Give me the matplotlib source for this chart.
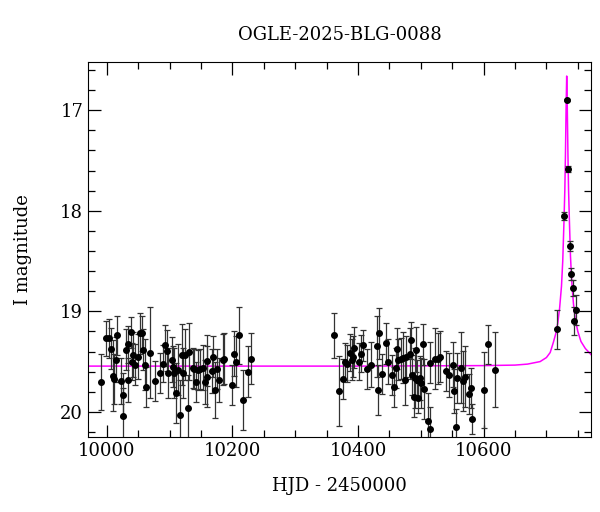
import numpy as np
import matplotlib.pyplot as plt
from matplotlib.ticker import MultipleLocator

# photometry (HJD - 2450000, I mag, error)
hjd = [
    9990, 9999, 10003.5, 10007, 10010, 10011, 10014, 10016, 10022, 10026, 10025, 10030,
    10033, 10034, 10038, 10040, 10042, 10045, 10049, 10052, 10055.5, 10057, 10061, 10063,
    10069, 10076, 10085, 10089, 10093, 10096, 10097.5, 10104, 10106, 10107.5, 10110, 10114,
    10117, 10120, 10121, 10124, 10129, 10131.5, 10137, 10139, 10142, 10145, 10149, 10153,
    10157, 10159, 10160, 10167, 10169, 10172, 10176, 10179, 10185, 10187, 10200, 10202,
    10206, 10211, 10217, 10224, 10229,
    10362.5, 10369, 10376, 10380, 10383, 10387, 10390, 10392, 10394, 10401, 10404, 10408,
    10415, 10420, 10429.5, 10431.5, 10433, 10438.5, 10445, 10447, 10454.5, 10458, 10460,
    10462.5, 10464, 10468, 10471, 10474.5, 10477, 10482, 10485, 10486, 10489, 10490, 10492,
    10494, 10495.5, 10498, 10500.5, 10503, 10505, 10511, 10514, 10515, 10522, 10527, 10530,
    10540, 10544.5, 10550.5, 10553.5, 10556, 10558, 10564.5, 10567, 10571, 10576.5, 10580,
    10581, 10600, 10606.5, 10618.5,
    10717.5, 10728.6, 10732, 10735, 10737.5, 10739, 10742, 10744, 10746.6,
]
mag = [
    19.70, 19.27, 19.27, 19.37, 19.64, 19.67, 19.48, 19.24, 19.69, 19.83, 20.04, 19.38,
    19.68, 19.33, 19.21, 19.50, 19.43, 19.53, 19.45, 19.22, 19.22, 19.38, 19.53, 19.75,
    19.41, 19.69, 19.61, 19.52, 19.34, 19.39, 19.61, 19.48, 19.55, 19.61, 19.81, 19.58,
    20.03, 19.43, 19.61, 19.43, 19.96, 19.40, 19.56, 19.57, 19.70, 19.58, 19.57, 19.56,
    19.70, 19.65, 19.49, 19.59, 19.45, 19.78, 19.57, 19.68, 19.48, 19.47, 19.73, 19.42,
    19.50, 19.24, 19.88, 19.60, 19.47,
    19.24, 19.79, 19.67, 19.50, 19.52, 19.41, 19.48, 19.45, 19.36, 19.50, 19.42, 19.34,
    19.57, 19.53, 19.35, 19.78, 19.22, 19.62, 19.32, 19.50, 19.63, 19.75, 19.56,
    19.37, 19.48, 19.47, 19.46, 19.68, 19.45, 19.42, 19.29, 19.63, 19.85, 19.66, 19.38,
    19.68, 19.86, 19.66, 19.71, 19.33, 19.77, 20.09, 19.51, 20.17, 19.47, 19.47, 19.45,
    19.59, 19.63, 19.53, 19.79, 20.15, 19.66, 19.56, 19.69, 19.65, 19.82, 19.76,
    20.07, 19.78, 19.33, 19.58,
    19.18, 18.05, 16.90, 17.58, 18.35, 18.63, 18.77, 19.10, 18.99,
]
err = [
    0.28, 0.17, 0.19, 0.20, 0.35, 0.25, 0.22, 0.19, 0.23, 0.22, 0.28, 0.20,
    0.22, 0.18, 0.15, 0.18, 0.22, 0.20, 0.22, 0.20, 0.17, 0.20, 0.25, 0.20,
    0.45, 0.20, 0.20, 0.18, 0.20, 0.20, 0.25, 0.22, 0.20, 0.25, 0.30, 0.25,
    0.35, 0.30, 0.25, 0.25, 0.33, 0.28, 0.20, 0.20, 0.20, 0.20, 0.20, 0.22,
    0.22, 0.30, 0.25, 0.22, 0.20, 0.28, 0.20, 0.22, 0.25, 0.25, 0.20, 0.22,
    0.25, 0.28, 0.30, 0.25, 0.25,
    0.22, 0.35, 0.20, 0.18, 0.18, 0.18, 0.20, 0.20, 0.20, 0.18, 0.18, 0.15,
    0.20, 0.22, 0.30, 0.25, 0.25, 0.20, 0.20, 0.22, 0.20, 0.20, 0.20,
    0.20, 0.20, 0.20, 0.25, 0.25, 0.20, 0.25, 0.18, 0.20, 0.20, 0.30, 0.22,
    0.20, 0.15, 0.22, 0.25, 0.20, 0.30, 0.28, 0.20, 0.22, 0.30, 0.25, 0.25,
    0.20, 0.22, 0.22, 0.22, 0.18, 0.25, 0.35, 0.30, 0.30, 0.20, 0.20,
    0.15, 0.38, 0.19, 0.37,
    0.19, 0.04, 0.01, 0.03, 0.05, 0.06, 0.08, 0.14, 0.15,
]

# model curve
model_hjd = [9970, 10400, 10600, 10650, 10670, 10690, 10700, 10706, 10711, 10715, 10718,
             10721, 10724, 10726, 10728, 10729.3, 10730.3, 10731.3, 10732.3, 10733.3,
             10734.3, 10735.3, 10736.6, 10738.3, 10740.3, 10743, 10746, 10750, 10755,
             10762, 10771]
model_mag = [19.545, 19.545, 19.54, 19.535, 19.525, 19.50, 19.46, 19.41, 19.31, 19.22, 19.12,
             18.97, 18.75, 18.50, 18.10, 17.80, 17.45, 17.00, 16.66, 17.00,
             17.45, 17.80, 18.10, 18.45, 18.70, 18.92, 19.08, 19.20, 19.30,
             19.37, 19.43]

plt.rcParams['font.family'] = ['DejaVu Serif']

fig = plt.figure(figsize=(6, 5.12), dpi=100)
ax = fig.add_axes([0.1467, 0.1465, 0.8383, 0.7325])

ax.plot(model_hjd, model_mag, color='#ff00ff', lw=1.1, zorder=1)
ax.errorbar(hjd, mag, yerr=err, fmt='o', color='black', ms=4.0, ecolor='#333333',
            elinewidth=0.9, capsize=2.4, capthick=0.9, zorder=2)

ax.set_xlim(9970, 10771)
ax.set_ylim(20.25, 16.52)

ax.xaxis.set_major_locator(MultipleLocator(200))
ax.xaxis.set_minor_locator(MultipleLocator(50))
ax.yaxis.set_major_locator(MultipleLocator(1))
ax.yaxis.set_minor_locator(MultipleLocator(0.2))
ax.tick_params(which='both', direction='in', top=True, right=True, labelsize=13)
ax.tick_params(which='major', length=9, width=0.9)
ax.tick_params(which='minor', length=5, width=0.9)

ax.set_title('OGLE-2025-BLG-0088', fontsize=13, pad=16)
ax.set_xlabel('HJD - 2450000', fontsize=13, labelpad=12)
ax.set_ylabel('I magnitude', fontsize=13, labelpad=20)

fig.savefig('out.png', dpi=100)
